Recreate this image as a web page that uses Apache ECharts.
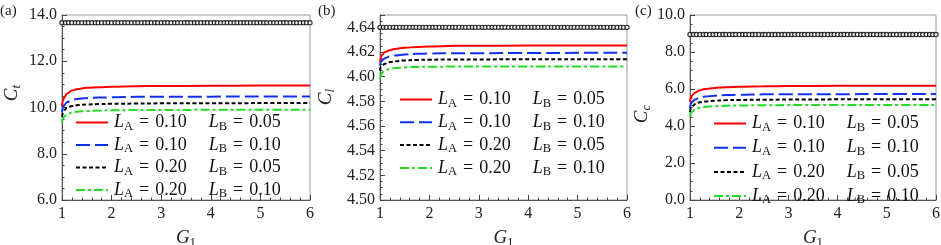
<!DOCTYPE html>
<html><head><meta charset="utf-8">
<script src="https://cdn.jsdelivr.net/npm/echarts@6/dist/echarts.min.js"></script>
<style>html,body{margin:0;padding:0;background:#fff}#c{width:941px;height:245px}</style>
</head><body><div id="c"></div>
<script>
// ---- data ----
const G = [1, 1.02, 1.05, 1.1, 1.2, 1.3, 1.5, 1.75, 2, 2.5, 3, 4, 5, 6];
// panel (a) C_t
const redA   = [10.05, 10.30, 10.45, 10.60, 10.73, 10.79, 10.85, 10.88, 10.90, 10.92, 10.93, 10.94, 10.95, 10.95];
const blueA  = [9.80, 10.00, 10.12, 10.23, 10.33, 10.37, 10.41, 10.43, 10.44, 10.46, 10.46, 10.47, 10.48, 10.48];
const blackA = [9.60, 9.78, 9.89, 9.98, 10.06, 10.10, 10.13, 10.15, 10.16, 10.17, 10.18, 10.18, 10.19, 10.19];
const greenA = [9.35, 9.52, 9.62, 9.71, 9.78, 9.82, 9.85, 9.87, 9.88, 9.89, 9.89, 9.90, 9.90, 9.90];
const circleLevelA = 13.67;
// panel (b) C_l
const redB   = [4.612, 4.616, 4.618, 4.620, 4.6215, 4.6225, 4.6235, 4.624, 4.6245, 4.625, 4.625, 4.6252, 4.6253, 4.6253];
const blueB  = [4.609, 4.612, 4.6135, 4.615, 4.6165, 4.6172, 4.618, 4.6185, 4.6188, 4.619, 4.619, 4.6192, 4.6193, 4.6193];
const blackB = [4.605, 4.608, 4.609, 4.6105, 4.6118, 4.6125, 4.6132, 4.6136, 4.6138, 4.614, 4.614, 4.6141, 4.6141, 4.6141];
const greenB = [4.598, 4.6015, 4.6035, 4.605, 4.6063, 4.607, 4.6076, 4.6079, 4.608, 4.6082, 4.6082, 4.6083, 4.6083, 4.6083];
const circleLevelB = 4.640;
// panel (c) C_c
const redC   = [5.30, 5.55, 5.68, 5.80, 5.93, 6.00, 6.06, 6.10, 6.12, 6.15, 6.16, 6.17, 6.18, 6.18];
const blueC  = [4.95, 5.20, 5.32, 5.43, 5.54, 5.59, 5.64, 5.67, 5.69, 5.71, 5.72, 5.72, 5.73, 5.73];
const blackC = [4.75, 4.97, 5.08, 5.18, 5.28, 5.32, 5.37, 5.40, 5.41, 5.42, 5.43, 5.44, 5.44, 5.44];
const greenC = [4.50, 4.70, 4.80, 4.90, 4.99, 5.03, 5.07, 5.10, 5.11, 5.12, 5.13, 5.14, 5.14, 5.14];
const circleLevelC = 8.95;
// x positions of the open-circle markers
const circleG = [
 1.00,1.07,1.13,1.20,1.27,1.33,1.40,1.47,1.53,1.60,1.67,1.73,1.80,1.87,1.93,
 2.00,2.07,2.13,2.20,2.27,2.33,2.40,2.47,2.53,2.60,2.67,2.73,2.80,2.87,2.93,
 3.00,3.07,3.13,3.20,3.27,3.33,3.40,3.47,3.53,3.60,3.67,3.73,3.80,3.87,3.93,
 4.00,4.07,4.13,4.20,4.27,4.33,4.40,4.47,4.53,4.60,4.67,4.73,4.80,4.87,4.93,
 5.00,5.07,5.13,5.20,5.27,5.33,5.40,5.47,5.53,5.60,5.67,5.73,5.80,5.87,5.93,
 6.00];
const xTicks = [1, 2, 3, 4, 5, 6];
const legendLabels = {
  s1: ['0.10', '0.05'], s2: ['0.10', '0.10'], s3: ['0.20', '0.05'], s4: ['0.20', '0.10']
};
const yNames = [['C','t'], ['C','l'], ['C','c']];
const panelTags = ['(a)', '(b)', '(c)'];

// ---- styling ----
const SERIF = '"Liberation Serif", "Times New Roman", Times, serif';
const seriesStyles = {
  s1: {color: '#ff0000', type: 'solid'},
  s2: {color: '#1030f0', type: [14, 5]},
  s3: {color: '#000000', type: [4, 2.5]},
  s4: {color: '#22dd22', type: [9, 3, 3, 3]}
};
const grids = [
  {left: 62, top: 15, width: 248, height: 185},
  {left: 380, top: 15, width: 247, height: 185},
  {left: 690, top: 15, width: 246, height: 185}
];
const yCfg = [
  {min: 6, max: 14, interval: 2, dec: 1, top: 14},
  {min: 4.50, max: 4.65, interval: 0.02, dec: 2, top: 4.645},
  {min: 0, max: 10, interval: 2, dec: 1, top: 10}
];
const panelData = [
  {s1: redA, s2: blueA, s3: blackA, s4: greenA, circ: circleLevelA},
  {s1: redB, s2: blueB, s3: blackB, s4: greenB, circ: circleLevelB},
  {s1: redC, s2: blueC, s3: blackC, s4: greenC, circ: circleLevelC}
];
const legendPos = [
  {left: 75, top: 112, gap: 1.5},
  {left: 399, top: 89, gap: 1.8},
  {left: 713, top: 113, gap: 3.2}
];
const yNamePos = [[12, 93], [326, 97], [642, 114]];
const tagPos = [[0, 4], [318, 4], [635, 4]];

const richLegend = {
  i: {fontFamily: SERIF, fontStyle: 'italic', fontSize: 18, lineHeight: 18, color: '#111', padding: [0, 0, 0, 1]},
  i2: {fontFamily: SERIF, fontStyle: 'italic', fontSize: 18, lineHeight: 18, color: '#111', padding: [0, 0, 0, 22]},
  s: {fontFamily: SERIF, fontSize: 12.5, lineHeight: 18, color: '#111', padding: [8, 0, 0, 0]},
  e: {fontFamily: SERIF, fontSize: 18, lineHeight: 18, color: '#111', padding: [0, 6, 0, 6]},
  n: {fontFamily: SERIF, fontSize: 18, lineHeight: 18, color: '#111'}
};

const xAxes = [], yAxes = [], series = [], legends = [], graphics = [];
for (let p = 0; p < 3; p++) {
  xAxes.push({
    type: 'value', gridIndex: p, min: xTicks[0], max: xTicks[xTicks.length - 1], interval: 1,
    axisLine: {show: true, lineStyle: {color: '#555', width: 1}},
    axisTick: {show: true, inside: true, length: 5, lineStyle: {color: '#444'}},
    minorTick: {show: true, splitNumber: 5, length: 2.5, lineStyle: {color: '#444'}},
    splitLine: {show: false},
    axisLabel: {fontFamily: SERIF, fontSize: 16, color: '#222', margin: 6},
    name: '{i|G}{s|1}', nameLocation: 'middle', nameGap: 27,
    nameTextStyle: {rich: {
      i: {fontFamily: SERIF, fontStyle: 'italic', fontSize: 19, lineHeight: 20, color: '#222'},
      s: {fontFamily: SERIF, fontSize: 13, lineHeight: 20, color: '#222', padding: [9, 0, 0, 0]}
    }}
  });
  const yc = yCfg[p];
  yAxes.push({
    type: 'value', gridIndex: p, min: yc.min, max: yc.max, interval: yc.interval,
    axisLine: {show: true, lineStyle: {color: '#555', width: 1}},
    axisTick: {show: true, inside: true, length: 5, lineStyle: {color: '#444'}},
    minorTick: {show: true, splitNumber: 4, length: 2.5, lineStyle: {color: '#444'}},
    splitLine: {show: false},
    axisLabel: {fontFamily: SERIF, fontSize: 16, color: '#222', margin: 5,
      formatter: v => (v > yc.top + 1e-9 ? '' : v.toFixed(yc.dec))}
  });
  const d = panelData[p];
  series.push({
    type: 'scatter', name: 'circ', xAxisIndex: p, yAxisIndex: p,
    data: circleG.map(g => [g, d.circ]),
    symbol: 'circle', symbolSize: 4.2, z: 5,
    itemStyle: {color: '#fff', borderColor: '#000', borderWidth: 1.2}
  });
  ['s1', 's2', 's3', 's4'].forEach(k => {
    series.push({
      type: 'line', name: k, xAxisIndex: p, yAxisIndex: p,
      data: G.map((g, i) => [g, d[k][i]]),
      showSymbol: false, symbol: 'none', smooth: 0.4, smoothMonotone: 'x',
      lineStyle: {color: seriesStyles[k].color, type: seriesStyles[k].type, width: 2},
      itemStyle: {color: seriesStyles[k].color}
    });
  });
  const lp = legendPos[p];
  legends.push({
    data: ['s1', 's2', 's3', 's4'], orient: 'vertical', left: lp.left, top: lp.top,
    itemWidth: 32, itemHeight: 12, itemGap: lp.gap, selectedMode: false, padding: 0,
    itemStyle: {opacity: 0},
    formatter: name => `{i|L}{s|A}{e|=}{n|${legendLabels[name][0]}}{i2|L}{s|B}{e|=}{n|${legendLabels[name][1]}}`,
    textStyle: {rich: richLegend}
  });
  graphics.push({
    type: 'text', x: yNamePos[p][0], y: yNamePos[p][1], rotation: Math.PI / 2,
    style: {
      text: `{i|${yNames[p][0]}}{s|${yNames[p][1]}}`, align: 'center', verticalAlign: 'middle',
      rich: {
        i: {fontFamily: SERIF, fontStyle: 'italic', fontSize: 19, lineHeight: 20, fill: '#222'},
        s: {fontFamily: SERIF, fontStyle: 'italic', fontSize: 13, lineHeight: 20, fill: '#222', padding: [9, 0, 0, 0]}
      }
    }
  });
  graphics.push({
    type: 'text', x: tagPos[p][0], y: tagPos[p][1],
    style: {text: panelTags[p], fontFamily: SERIF, fontSize: 15, fill: '#222'}
  });
}

const chart = echarts.init(document.getElementById('c'), null, {renderer: 'canvas'});
chart.setOption({
  animation: false,
  backgroundColor: '#fff',
  grid: grids.map(g => Object.assign({show: true, borderColor: '#999', borderWidth: 1,
    backgroundColor: 'transparent', containLabel: false, outerBoundsMode: 'none'}, g)),
  xAxis: xAxes, yAxis: yAxes, series: series, legend: legends, graphic: graphics
});
</script></body></html>
